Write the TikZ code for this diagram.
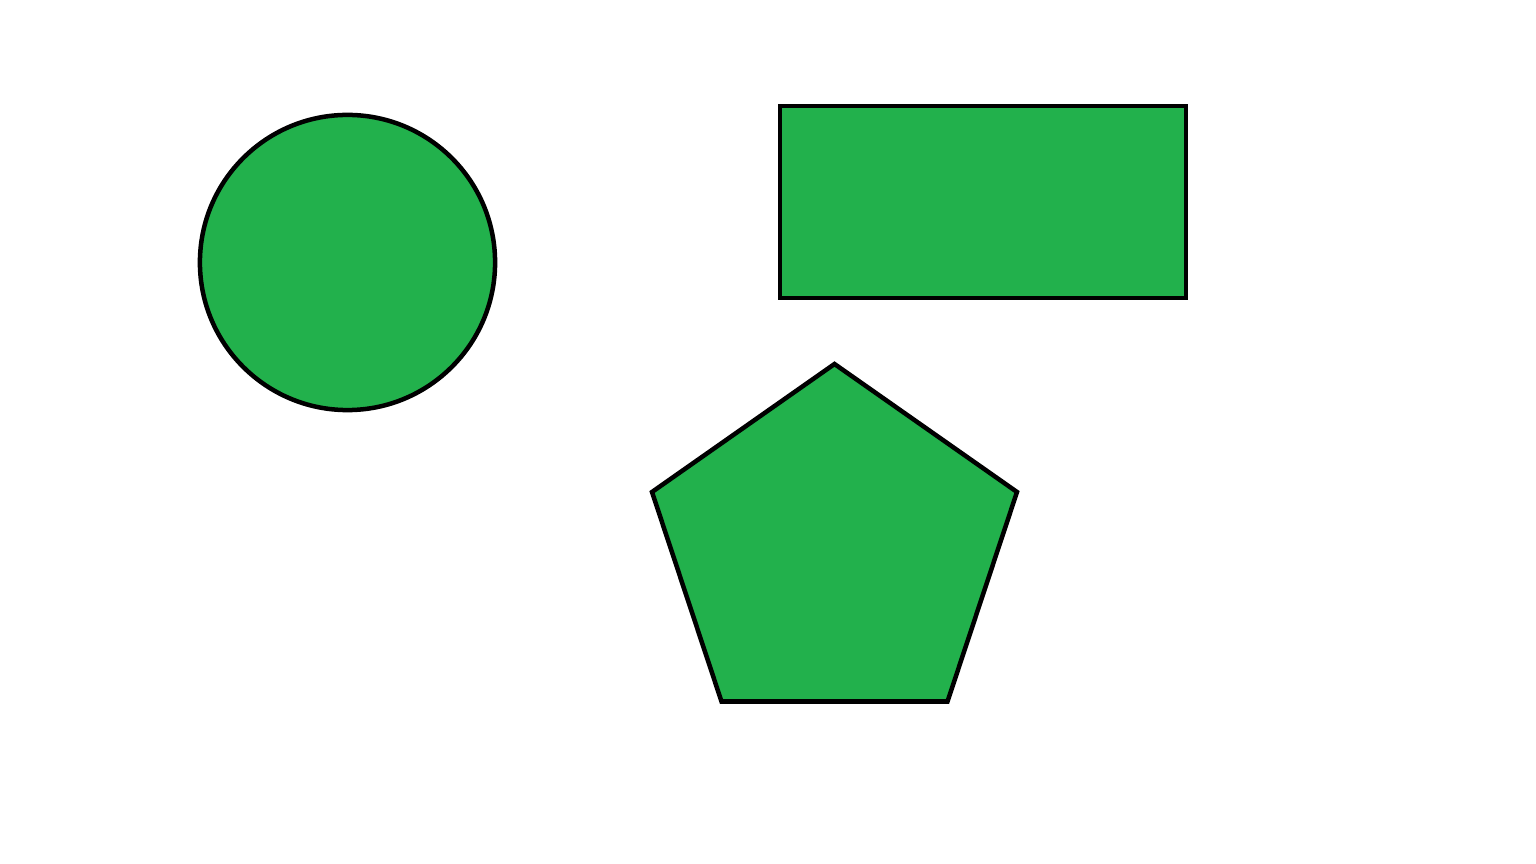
\documentclass[tikz,border=0pt]{standalone}
\usepackage{tikz}
\definecolor{paintgreen}{RGB}{34,177,76}
\tikzset{greenshape/.style={draw=black, fill=paintgreen, line width=0.045cm, line join=miter}}
\begin{document}
\begin{tikzpicture}[x=0.01cm,y=-0.01cm]
	%\draw[help lines] (0,0) grid[step=100] (1536,864);
	\useasboundingbox (0,0) rectangle (1536,864);
	\draw[greenshape] (347.5,262.5) circle [radius=1.475cm];
	\draw[greenshape] (780,106) rectangle (1186,298);
	\draw[greenshape] (834.5,364) -- (1017,492) -- (947.5,701.5) -- (721.5,701.5) -- (652,492) -- cycle;
\end{tikzpicture}
\end{document}
